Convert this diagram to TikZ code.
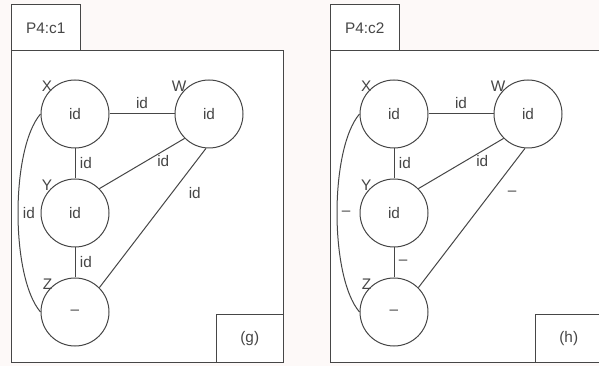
\documentclass[tikz,border=0pt]{standalone}
\usepackage{fontspec}
\setmainfont{Liberation Sans}
\definecolor{bgpink}{RGB}{253,249,248}
\definecolor{inkgray}{RGB}{70,70,70}
\tikzset{>=stealth}

\begin{document}
\begin{tikzpicture}[x=0.75pt, y=-0.75pt,
    every node/.style={font=\fontsize{11.5}{13}\selectfont, text=inkgray},
    frame/.style={draw=inkgray, fill=white, line width=0.75pt},
    obj/.style={circle, draw=inkgray, fill=white, line width=0.75pt, minimum size=51pt, inner sep=0pt},
    tag/.style={inner sep=0pt, label distance=-2pt},
    link/.style={draw=inkgray, line width=0.75pt}]
    \useasboundingbox (0,0) rectangle (599,366);
    \fill[bgpink] (0,0) rectangle (599,366);
    \clip (0,0) rectangle (599,366);
    \foreach \p/\dx/\name/\cap/\lb in {1/0/c1/g/id, 2/319/c2/h/–}{
    \begin{scope}[shift={(\dx,0)}]
        \draw[frame] (11.5,51) rectangle (283.5,362);
        \node[frame, minimum width=51.4pt, minimum height=34.5pt] (tab\p) at (45.75,28) {P4:\name};
        \node[frame, minimum width=50.6pt, minimum height=35.25pt] (cap\p) at (249.75,338.5) {(\cap)};
        \node[obj, label={[tag]135:X}] (X\p) at (75,114) {id};
        \node[obj, label={[tag]135:W}] (W\p) at (209,114) {id};
        \node[obj, label={[tag]135:Y}] (Y\p) at (75,213) {id};
        \node[obj, label={[tag]135:Z}] (Z\p) at (75,312) {–};
        \draw[link] (X\p) -- node[above] {id} (W\p);
        \draw[link] (X\p) -- node[right] {id} (Y\p);
        \draw[link] (Y\p.45) -- node[pos=0.75, below] {id} (W\p.225);
        \draw[link] (Z\p.45) -- node[pos=0.68, right=9pt] {\lb} (W\p.-95);
        \draw[link] (Y\p) -- node[right] {\lb} (Z\p);
        \draw[link] (X\p.west) .. controls +(-30,35) and +(-30,-35) .. node[right] {\lb} (Z\p.west);
    \end{scope}
    }
\end{tikzpicture}
\end{document}
